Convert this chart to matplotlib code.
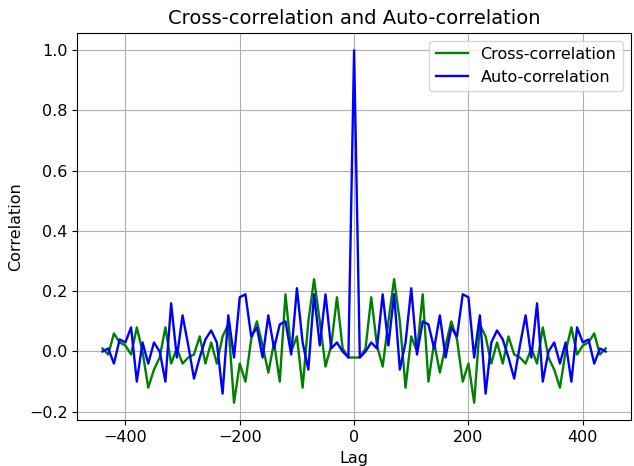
import numpy as np
import matplotlib
matplotlib.use("Agg")
import matplotlib.pyplot as plt

# lags 0..440 (step 10), the curves are mirrored around lag 0
lag_pos = np.arange(0, 441, 10)
auto_pos = [1.00, -0.02, 0.00, 0.03, 0.01, 0.19, 0.02, 0.19, -0.06, 0.03,
            0.21, -0.01, 0.10, 0.09, 0.01, 0.12, -0.02, 0.08, 0.05, 0.19,
            0.18, -0.02, 0.12, -0.14, 0.03, 0.07, 0.04, -0.02, -0.09, 0.02,
            0.12, -0.02, 0.16, -0.10, 0.00, 0.03, -0.04, 0.03, -0.10, 0.08,
            0.03, 0.04, -0.04, 0.01, 0.00]
cross_pos = [-0.02, -0.02, 0.01, 0.18, 0.02, -0.05, 0.10, 0.24, 0.10, -0.12,
             0.05, 0.00, 0.19, -0.10, 0.03, -0.07, 0.02, 0.10, 0.04, -0.10,
             -0.04, -0.17, 0.09, 0.05, -0.04, 0.03, -0.04, 0.05, -0.01, -0.02,
             -0.04, 0.01, -0.04, 0.08, -0.02, -0.06, -0.12, 0.00, 0.08, -0.01,
             0.02, 0.03, 0.06, -0.01, 0.01]

lags = np.concatenate([-lag_pos[::-1], lag_pos[1:]])
auto = np.concatenate([auto_pos[::-1], auto_pos[1:]])
cross = np.concatenate([cross_pos[::-1], cross_pos[1:]])

plt.rcParams["font.size"] = 11.5

fig = plt.figure(figsize=(6.34, 4.66), dpi=100)
plt.plot(lags, cross, color="green", label="Cross-correlation", lw=1.7)
plt.plot(lags, auto, color="blue", label="Auto-correlation", lw=1.7)
plt.xlabel("Lag")
plt.ylabel("Correlation")
plt.title("Cross-correlation and Auto-correlation", fontsize=14)
plt.legend(loc="upper right")
plt.grid(True)
plt.subplots_adjust(left=0.122, right=0.995, bottom=0.098, top=0.93)
plt.savefig("out.png")
